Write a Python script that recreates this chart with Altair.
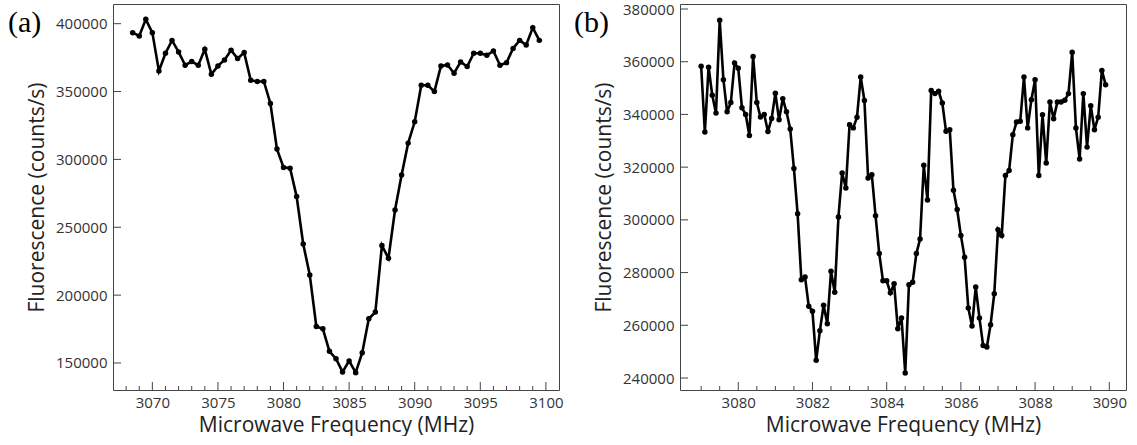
import altair as alt
import pandas as pd

# ---------------- data ----------------
freq_a = [3068.5, 3069.0, 3069.5, 3070.0, 3070.5, 3071.0, 3071.5, 3072.0, 3072.5, 3073.0,
          3073.5, 3074.0, 3074.5, 3075.0, 3075.5, 3076.0, 3076.5, 3077.0, 3077.5, 3078.0,
          3078.5, 3079.0, 3079.5, 3080.0, 3080.5, 3081.0, 3081.5, 3082.0, 3082.5, 3083.0,
          3083.5, 3084.0, 3084.5, 3085.0, 3085.5, 3086.0, 3086.5, 3087.0, 3087.5, 3088.0,
          3088.5, 3089.0, 3089.5, 3090.0, 3090.5, 3091.0, 3091.5, 3092.0, 3092.5, 3093.0,
          3093.5, 3094.0, 3094.5, 3095.0, 3095.5, 3096.0, 3096.5, 3097.0, 3097.5, 3098.0,
          3098.5, 3099.0, 3099.5]
fluor_a = [393400, 391000, 403200, 393400, 365200, 378200, 387700, 379200, 369400, 372100,
           369400, 381100, 362700, 368900, 373300, 380400, 374300, 378700, 358300, 357400,
           357400, 341200, 307600, 294100, 293500, 272600, 237700, 214900, 176900, 175200,
           158600, 153200, 143400, 151500, 142900, 157600, 182600, 187500, 236500, 227200,
           262700, 288500, 312000, 327700, 354600, 354600, 350000, 368900, 369600, 363500,
           371800, 368400, 378200, 378200, 376700, 379900, 369400, 371300, 381800, 387700,
           384300, 397100, 387700]

freq_b = [3079.0, 3079.1, 3079.2, 3079.3, 3079.4, 3079.5, 3079.6, 3079.7, 3079.8, 3079.9,
          3080.0, 3080.1, 3080.2, 3080.3, 3080.4, 3080.5, 3080.6, 3080.7, 3080.8, 3080.9,
          3081.0, 3081.1, 3081.2, 3081.3, 3081.4, 3081.5, 3081.6, 3081.7, 3081.8, 3081.9,
          3082.0, 3082.1, 3082.2, 3082.3, 3082.4, 3082.5, 3082.6, 3082.7, 3082.8, 3082.9,
          3083.0, 3083.1, 3083.2, 3083.3, 3083.4, 3083.5, 3083.6, 3083.7, 3083.8, 3083.9,
          3084.0, 3084.1, 3084.2, 3084.3, 3084.4, 3084.5, 3084.6, 3084.7, 3084.8, 3084.9,
          3085.0, 3085.1, 3085.2, 3085.3, 3085.4, 3085.5, 3085.6, 3085.7, 3085.8, 3085.9,
          3086.0, 3086.1, 3086.2, 3086.3, 3086.4, 3086.5, 3086.6, 3086.7, 3086.8, 3086.9,
          3087.0, 3087.1, 3087.2, 3087.3, 3087.4, 3087.5, 3087.6, 3087.7, 3087.8, 3087.9,
          3088.0, 3088.1, 3088.2, 3088.3, 3088.4, 3088.5, 3088.6, 3088.7, 3088.8, 3088.9,
          3089.0, 3089.1, 3089.2, 3089.3, 3089.4, 3089.5, 3089.6, 3089.7, 3089.8, 3089.9]
fluor_b = [358300, 333300, 357900, 347300, 340500, 375700, 353200, 341000, 344500, 359500,
           357500, 342500, 340000, 332000, 362000, 344500, 339000, 340000, 333500, 338500,
           348000, 338000, 346000, 341000, 334500, 319500, 302300, 277300, 278300, 267200,
           265300, 246700, 257900, 267600, 260600, 280500, 272500, 301100, 317800, 312100,
           336100, 334900, 338900, 354200, 345300, 315900, 317100, 301600, 287200, 276900,
           276900, 272300, 275800, 258700, 262800, 241900, 275400, 276300, 287200, 292700,
           320700, 307500, 349100, 347900, 348800, 344300, 333600, 334200, 311200, 303900,
           294100, 285800, 266600, 259700, 274500, 262800, 252300, 251800, 260200, 272000,
           296300, 294100, 316800, 318700, 332300, 337100, 337400, 354200, 334900, 345600,
           353200, 316800, 339900, 321600, 344700, 338400, 344700, 344700, 345400, 347900,
           363600, 334900, 323100, 347900, 327600, 343300, 334200, 338900, 356700, 351300]

xticks_a_major = [3070, 3075, 3080, 3085, 3090, 3095, 3100]
xticks_a_minor = [3068, 3069, 3071, 3072, 3073, 3074, 3076, 3077, 3078, 3079,
                  3081, 3082, 3083, 3084, 3086, 3087, 3088, 3089, 3091, 3092,
                  3093, 3094, 3096, 3097, 3098, 3099]
yticks_a = [150000, 200000, 250000, 300000, 350000, 400000]

xticks_b_major = [3080, 3082, 3084, 3086, 3088, 3090]
xticks_b_minor = [3079.0, 3079.5, 3080.5, 3081.0, 3081.5, 3082.5, 3083.0, 3083.5,
                  3084.5, 3085.0, 3085.5, 3086.5, 3087.0, 3087.5, 3088.5, 3089.0, 3089.5]
yticks_b = [240000, 260000, 280000, 300000, 320000, 340000, 360000, 380000]

panel_labels = ["(a)", "(b)"]

W, H = 446, 386
AX = "#444444"


def panel(freq, fluor, xdom, ydom, xmaj, xmin, ymaj, label, label_dx):
    df = pd.DataFrame({"freq": freq, "fluor": fluor})
    xs = alt.Scale(domain=xdom, nice=False, zero=False)
    ys = alt.Scale(domain=ydom, nice=False, zero=False)
    xax = alt.Axis(values=xmaj, format="d", title="Microwave Frequency (MHz)",
                   labelPadding=5, titlePadding=4)
    yax = alt.Axis(values=ymaj, format="d", title="Fluorescence (counts/s)",
                   labelPadding=6, titlePadding=8)
    xenc = alt.X("freq:Q", scale=xs, axis=xax)
    yenc = alt.Y("fluor:Q", scale=ys, axis=yax)
    line = alt.Chart(df).mark_line(
        color="black", strokeWidth=2.6,
        point=alt.OverlayMarkDef(filled=True, color="black", size=30, opacity=1),
    ).encode(x=xenc, y=yenc)
    tmaj = alt.Chart(pd.DataFrame({"freq": xmaj})).mark_rule(color=AX, strokeWidth=1).encode(
        x=xenc, y=alt.value(H), y2=alt.value(H - 8))
    tmin = alt.Chart(pd.DataFrame({"freq": xmin})).mark_rule(color=AX, strokeWidth=1).encode(
        x=xenc, y=alt.value(H), y2=alt.value(H - 4))
    ty = alt.Chart(pd.DataFrame({"fluor": ymaj})).mark_rule(color=AX, strokeWidth=1).encode(
        y=yenc, x=alt.value(0), x2=alt.value(8))
    lab = alt.Chart(pd.DataFrame({"lab": [label]})).mark_text(
        font="Liberation Serif", fontSize=30, align="left", baseline="alphabetic", color="black"
    ).encode(x=alt.value(label_dx), y=alt.value(28), text="lab:N")
    return alt.layer(line, tmin, tmaj, ty, lab).properties(width=W, height=H)


pa = panel(freq_a, fluor_a, [3067.0, 3101.0], [130100, 414500],
           xticks_a_major, xticks_a_minor, yticks_a, panel_labels[0], -105)
pb = panel(freq_b, fluor_b, [3078.43, 3090.45], [235450, 381900],
           xticks_b_major, xticks_b_minor, yticks_b, panel_labels[1], -106)

chart = alt.hconcat(pa, pb, spacing=9).configure_view(
    stroke=AX, strokeWidth=1
).configure_axis(
    ticks=False, domain=False, grid=False,
    labelFont="Open Sans", labelFontSize=15, labelColor="#333333",
    titleFont="Open Sans", titleFontSize=21, titleColor="#222222", titleFontWeight="normal",
).properties(
    padding={"left": 7, "top": 1, "right": 0, "bottom": 0},
    background="white",
)

chart.save("out.html", embed_options={"renderer": "svg", "actions": False})
